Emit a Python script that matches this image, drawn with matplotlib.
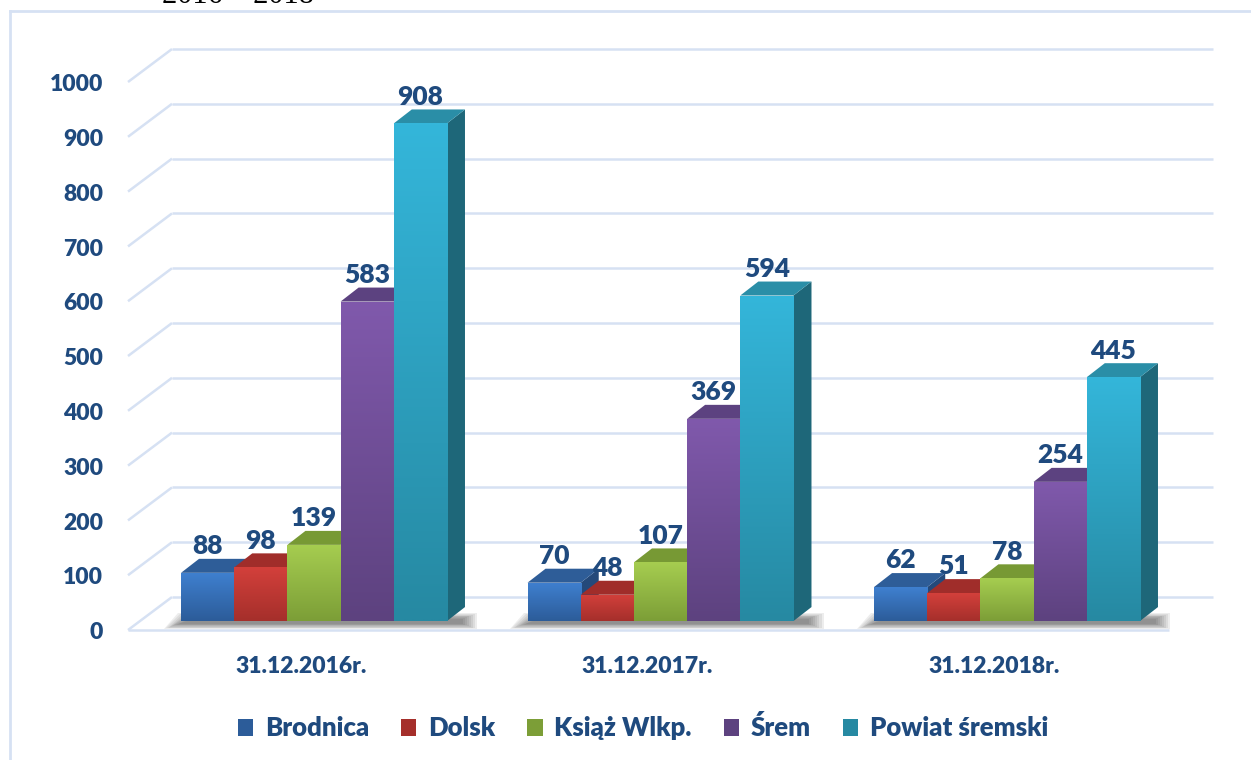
import numpy as np
import matplotlib
matplotlib.use('Agg')
import matplotlib.pyplot as plt
from matplotlib.patches import Polygon, Patch
from matplotlib.lines import Line2D
from matplotlib.colors import to_rgb

# ---------------- data ----------------
categories = ['31.12.2016r.', '31.12.2017r.', '31.12.2018r.']
series_names = ['Brodnica', 'Dolsk', 'Książ Wlkp.', 'Śrem', 'Powiat śremski']
brodnica = [88, 70, 62]
dolsk = [98, 48, 51]
ksiaz = [139, 107, 78]
srem = [583, 369, 254]
powiat = [908, 594, 445]
y_ticks = [0, 100, 200, 300, 400, 500, 600, 700, 800, 900, 1000]
title_text = '2016 – 2018'

series_values = [brodnica, dolsk, ksiaz, srem, powiat]

# styles: (front top, front bottom, top face, side face)
styles = [
    ('#3F80D0', '#2C5C99', '#2E5D98', '#24497A'),
    ('#D3403B', '#A52F2B', '#A02D2A', '#7E2220'),
    ('#A6CD50', '#7C9E37', '#779934', '#5B7728'),
    ('#8059AC', '#5D427F', '#5C4280', '#463262'),
    ('#34B6DA', '#2689A2', '#2A8EA7', '#1E6779'),
]
text_color = '#1F4A7E'
grid_color = '#D6E1F3'
FONT = 'Lato'
WEIGHT = 'heavy'

W, H, DPI = 1251, 760, 100
fig = plt.figure(figsize=(W / DPI, H / DPI), dpi=DPI)
fig.patch.set_facecolor('white')

ax = fig.add_axes([0, 0.1576, 1, 0.7932])
ax.set_xlim(-0.9062, 2.7042)
ax.set_ylim(-35, 1065)
ax.axis('off')

# 3D geometry (in data units)
bar_w = 0.1535
dx, dy = 0.052, 25.5
front_y, back_y = -16.4, 43.8
x_front_left, x_back_left = -0.5368, -0.4098
x_front_right, x_back_right = 2.4675, 2.5945

# walls / grid
for v in y_ticks:
    ax.plot([x_back_left, x_back_right], [v + back_y, v + back_y],
            color=grid_color, lw=1.8, zorder=1, solid_capstyle='butt')
    ax.plot([x_front_left, x_back_left], [v + front_y, v + back_y],
            color=grid_color, lw=1.8, zorder=1, solid_capstyle='butt')
    ax.text(x_front_left - 0.072, v - 33, str(v), ha='right', va='baseline',
            fontsize=16.5, fontweight=WEIGHT, color=text_color, family=FONT)
ax.plot([x_front_left, x_front_right], [front_y, front_y],
        color=grid_color, lw=1.8, zorder=1, solid_capstyle='butt')

x = np.arange(len(categories))
n = len(series_values)

# shadows under groups
for gi in range(len(categories)):
    xl = x[gi] - n * bar_w / 2
    xr = x[gi] + n * bar_w / 2 + dx
    for k in range(8):
        ins = k * 0.006
        insy = k * 1.4
        poly = Polygon([(xl - 0.05 + ins, -15 + insy), (xr + 0.035 - ins, -15 + insy),
                        (xr + 0.035 - ins, 14 - insy), (xl - 0.01 + ins, 14 - insy)],
                       closed=True, facecolor='#303030', edgecolor='none',
                       alpha=0.085, zorder=2)
        ax.add_patch(poly)

# gradient helper
def gradient_image(c_top, c_bot):
    t = np.array(to_rgb(c_top))
    b = np.array(to_rgb(c_bot))
    s = np.linspace(0, 1, 128)[:, None, None]
    return t[None, None, :] * (1 - s) + b[None, None, :] * s

z = 3
for gi in range(len(categories)):
    for si in range(n):
        h = series_values[si][gi]
        ft, fb, tc, sc = styles[si]
        x0 = x[gi] + (si - n / 2) * bar_w
        x1 = x0 + bar_w
        side = Polygon([(x1, 0), (x1 + dx, dy), (x1 + dx, h + dy), (x1, h)],
                       closed=True, facecolor=sc, edgecolor='none', zorder=z)
        ax.add_patch(side)
        top = Polygon([(x0, h), (x1, h), (x1 + dx, h + dy), (x0 + dx, h + dy)],
                      closed=True, facecolor=tc, edgecolor='none', zorder=z + 0.1)
        ax.add_patch(top)
        bars = ax.bar(x0, h, width=bar_w, bottom=0, align='edge', color=fb,
                      edgecolor='none', zorder=z + 0.2)
        im = ax.imshow(gradient_image(ft, fb), extent=(x0, x1, 0, h), origin='upper',
                       aspect='auto', interpolation='bilinear', zorder=z + 0.3)
        im.set_clip_path(bars.patches[0])
        z += 1

for gi in range(len(categories)):
    for si in range(n):
        h = series_values[si][gi]
        xc = x[gi] + (si - n / 2 + 0.5) * bar_w
        ax.text(xc, h + 34, str(h), ha='center', va='baseline', fontsize=19,
                fontweight=WEIGHT, color=text_color, family=FONT, zorder=100)
    ax.text(x[gi] - 0.0375, -95, categories[gi], ha='center', va='baseline',
            fontsize=16.5, fontweight=WEIGHT, color=text_color, family=FONT)

ax.set_xlim(-0.9062, 2.7042)
ax.set_ylim(-35, 1065)

# legend
handles = [Patch(facecolor=styles[i][1], edgecolor='none') for i in range(n)]
leg = fig.legend(handles, series_names, loc='center', ncol=n,
                 bbox_to_anchor=(643 / W, 1 - 728 / H), frameon=False,
                 handlelength=0.6, handleheight=0.6, handletextpad=0.45,
                 columnspacing=1.25,
                 prop={'family': FONT, 'weight': WEIGHT, 'size': 18.5})
for t in leg.get_texts():
    t.set_color(text_color)

# frame
fig.add_artist(Line2D([10 / W, 10 / W], [0, 1 - 11 / H], transform=fig.transFigure,
                      color=grid_color, lw=2))
fig.add_artist(Line2D([10 / W, 1], [1 - 11 / H, 1 - 11 / H], transform=fig.transFigure,
                      color=grid_color, lw=2))

# cut-off title above frame
fig.text(162 / W, 1 - 3 / H, title_text, ha='left', va='baseline',
         family='Liberation Serif', fontsize=22, color='black')

fig.savefig('out.png', dpi=DPI)
